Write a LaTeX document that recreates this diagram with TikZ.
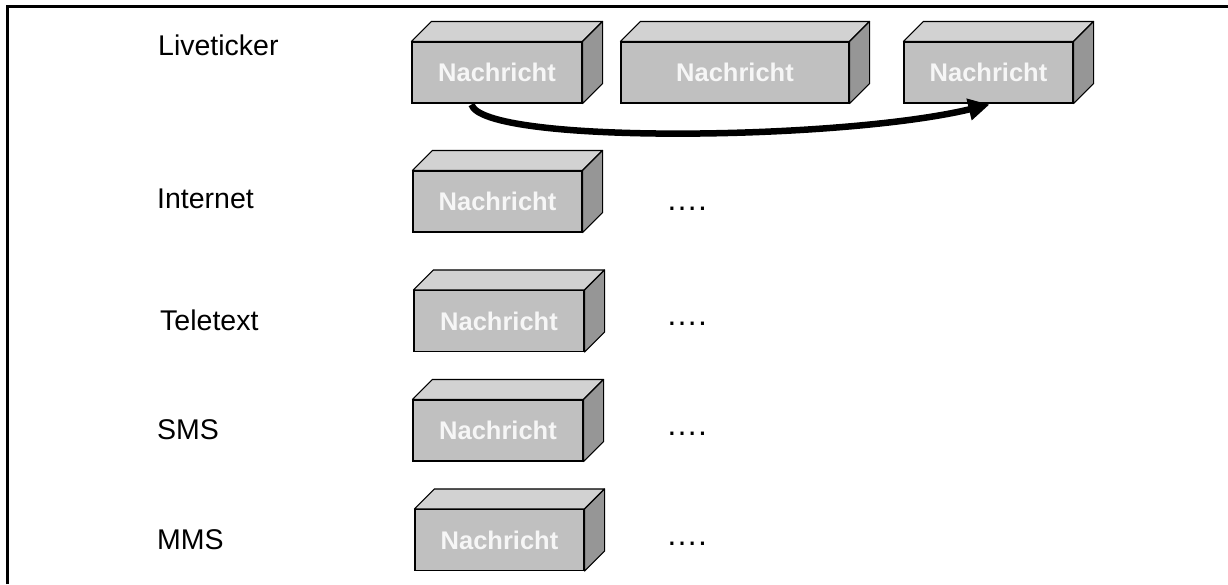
\documentclass[tikz,border=0pt]{standalone}
\usepackage{fontspec}
\setmainfont{Liberation Sans}
\usetikzlibrary{arrows.meta,calc}
\definecolor{frontc}{HTML}{C0C0C0}
\definecolor{topc}{HTML}{D2D2D2}
\definecolor{sidec}{HTML}{969696}
\definecolor{msgtext}{HTML}{F6F6F6}
\tikzset{
  msgbox/.style={draw=black, line width=1.1pt, fill=frontc, minimum height=61pt, inner sep=0pt,
    text=msgtext, font=\fontsize{25.5}{30}\selectfont\bfseries},
  chanlabel/.style={anchor=west, inner sep=0pt, font=\fontsize{28.5}{34}\selectfont},
  dotslabel/.style={anchor=base west, inner sep=0pt, font=\fontsize{32}{36}\selectfont},
  facetop/.style={draw=black, line width=1.1pt, fill=topc, line join=round},
  faceside/.style={draw=black, line width=1.1pt, fill=sidec, line join=round},
  flowarrow/.style={line width=6.5pt, -{Triangle[length=21pt,width=21pt]}}
}
\newcommand{\boxfaces}[1]{%
  \path[facetop] (#1.north west) -- ++(20pt,20pt) -- ($(#1.north east)+(20pt,20pt)$) -- (#1.north east) -- cycle;
  \path[faceside] (#1.north east) -- ++(20pt,20pt) -- ($(#1.south east)+(20pt,20pt)$) -- (#1.south east) -- cycle;
}
\begin{document}
\begin{tikzpicture}[x=1pt,y=-1pt]
\useasboundingbox (0,0) rectangle (1228,584);
\draw[line width=3pt] (7,584) -- (7,6) -- (1228,6);

% labels
\node[chanlabel] (l1) at (158,45) {Liveticker};
\node[chanlabel] (l2) at (157,199) {Internet};
\node[chanlabel] (l3) at (160,320) {Teletext};
\node[chanlabel] (l4) at (157,430) {SMS};
\node[chanlabel] (l5) at (157,540) {MMS};

% boxes
\node[msgbox, minimum width=170pt] (b1) at (497,72.5) {Nachricht};
\node[msgbox, minimum width=228pt] (b2) at (735,72.5) {Nachricht};
\node[msgbox, minimum width=169pt] (b3) at (988.5,72.5) {Nachricht};
\node[msgbox, minimum width=169pt] (b4) at (497.5,201.5) {Nachricht};
\node[msgbox, minimum width=170pt] (b5) at (499,321) {Nachricht};
\node[msgbox, minimum width=170pt] (b6) at (498,430.5) {Nachricht};
\node[msgbox, minimum width=169pt] (b7) at (499.5,540) {Nachricht};
\boxfaces{b1}\boxfaces{b2}\boxfaces{b3}\boxfaces{b4}\boxfaces{b5}\boxfaces{b6}\boxfaces{b7}

% dots
\node[dotslabel] (d4) at (666,210) {….};
\node[dotslabel] (d5) at (666,325) {….};
\node[dotslabel] (d6) at (666,435) {….};
\node[dotslabel] (d7) at (666,545) {….};

% arrow
\coordinate (as) at ($(b1.south west)+(60,1)$);
\coordinate (ae) at ($(b3.south west)+(86,1)$);
\draw[flowarrow] (as) .. controls ($(as)+(12,40)$) and ($(ae)+(-150,36)$) .. (ae);
\end{tikzpicture}
\end{document}
